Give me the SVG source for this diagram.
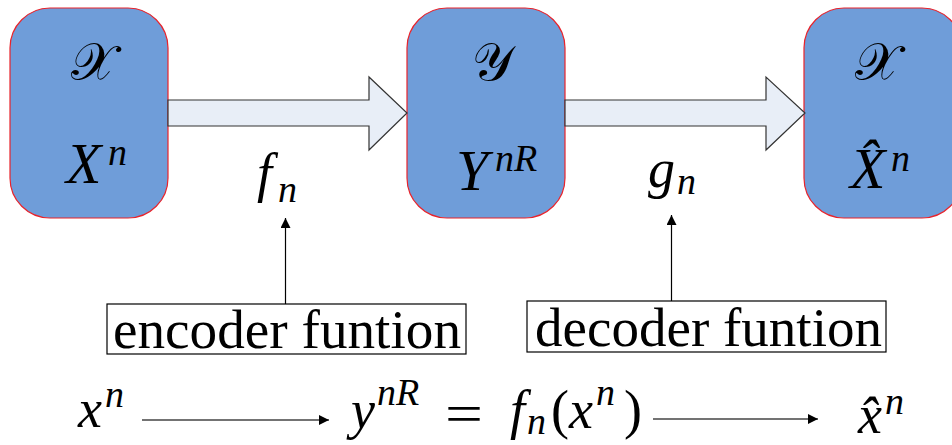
<svg xmlns="http://www.w3.org/2000/svg" width="952" height="445" viewBox="0 0 952 445">
<style>
text{font-family:"Liberation Serif","DejaVu Serif",serif;fill:#000}
.node{fill:#6F9DD9;stroke:#E8232B;stroke-width:1.2}
.blk{fill:#E8EEF7;stroke:#333;stroke-width:1.2}
.m{font-style:italic}
.r{font-style:normal}
.cal{font-size:52px}
.big{font-size:58px}
.mid{font-size:54px}
.sm{font-size:38px}
.ln{stroke:#000;stroke-width:1.2;fill:none}
.ln2{stroke:#444;stroke-width:1.4;fill:none}
.box{fill:#fff;stroke:#000;stroke-width:1.2}
</style>
<defs>
<marker id="ah" viewBox="0 0 10 10" refX="10" refY="5" markerWidth="10" markerHeight="10" markerUnits="userSpaceOnUse" orient="auto">
<path d="M0,0 L10,5 L0,10 z" fill="#000"/>
</marker>
</defs>
<g id="node-x">
<rect class="node" x="10" y="8" width="158" height="210" rx="40" ry="40"/>
<text class="cal" x="93" y="80" text-anchor="middle">𝒳</text>
<text class="m big" x="66" y="183">X<tspan class="sm" x="108" y="165">n</tspan></text>
</g>
<g id="node-y">
<rect class="node" x="407" y="8" width="158" height="210" rx="40" ry="40"/>
<text class="cal" x="492" y="80" text-anchor="middle">𝒴</text>
<text class="m big" x="456" y="190">Y<tspan class="sm" x="495" y="171">nR</tspan></text>
</g>
<g id="node-xhat">
<rect class="node" x="804" y="8" width="158" height="210" rx="40" ry="40"/>
<text class="cal" x="877" y="80" text-anchor="middle">𝒳</text>
<text class="m big" x="850" y="188">X̂<tspan class="sm" x="891" y="171">n</tspan></text>
</g>
<g id="encoder">
<rect class="box" x="107" y="304" width="359" height="50"/>
<text class="r mid" x="113" y="348" textLength="348" lengthAdjust="spacingAndGlyphs">encoder funtion</text>
</g>
<g id="decoder">
<rect class="box" x="527" y="301" width="359" height="51"/>
<text class="r mid" x="535" y="346" textLength="347" lengthAdjust="spacingAndGlyphs">decoder funtion</text>
</g>
<g id="connectors">
<polygon class="blk" points="168,100 369,100 369,77 407,113 369,150 369,126 168,126"/>
<polygon class="blk" points="565,100 766,100 766,77 805,113 766,150 766,126 565,126"/>
<line class="ln" x1="285.5" y1="304" x2="285.5" y2="218" marker-end="url(#ah)"/>
<line class="ln" x1="671.5" y1="301" x2="671.5" y2="215" marker-end="url(#ah)"/>
<line class="ln2" x1="142" y1="420" x2="329" y2="420" marker-end="url(#ah)"/>
<line class="ln2" x1="653" y1="419" x2="818" y2="419" marker-end="url(#ah)"/>
</g>
<g id="labels">
<text class="m mid" x="257" y="191">f<tspan class="sm" x="278" y="202">n</tspan></text>
<text class="m mid" x="648" y="187">g<tspan class="sm" x="677" y="194">n</tspan></text>
<text class="m mid" x="78" y="427">x<tspan class="sm" x="105" y="407">n</tspan></text>
<text class="m mid" x="351" y="428">y<tspan class="sm" x="377" y="405">nR</tspan></text>
<text class="r mid" x="445" y="432" textLength="38" lengthAdjust="spacingAndGlyphs">=</text>
<text class="m mid" x="510" y="428">f<tspan class="sm" x="527" y="434">n</tspan><tspan class="r" x="551" y="428">(</tspan><tspan x="569">x</tspan><tspan class="sm" x="596" y="405">n</tspan><tspan class="r" x="624" y="428">)</tspan></text>
<text class="m mid" x="858" y="433">x̂<tspan class="sm" x="885" y="414">n</tspan></text>
</g>
</svg>
